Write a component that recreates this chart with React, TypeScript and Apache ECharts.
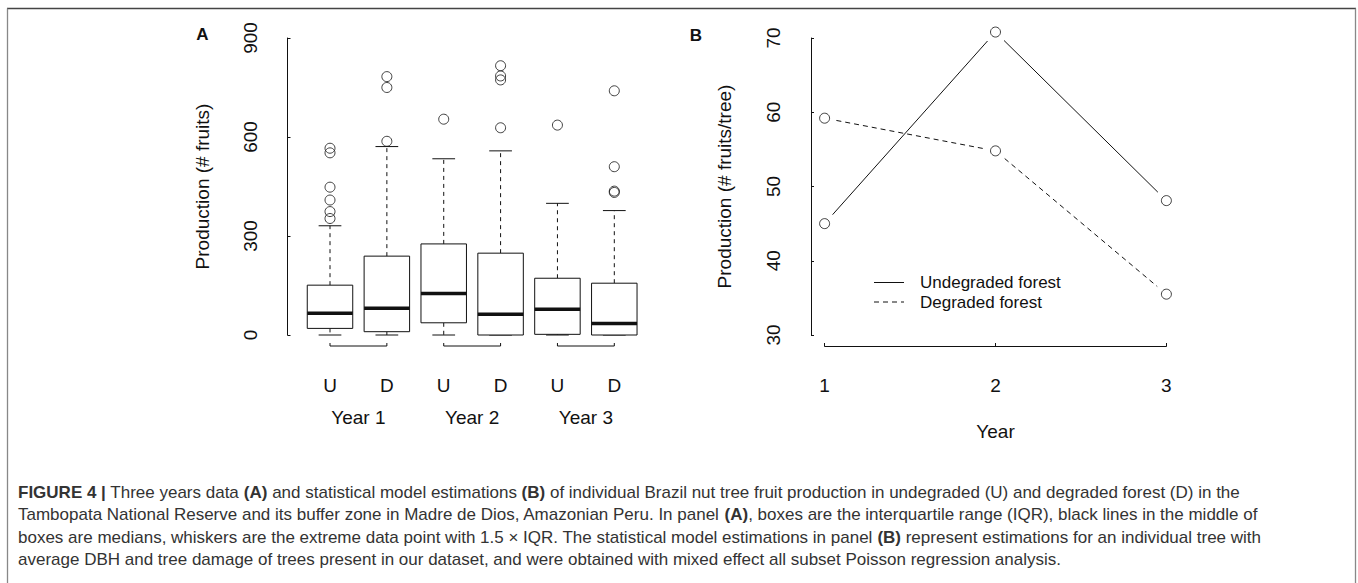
import React, { useEffect, useRef } from "react";
import * as echarts from "echarts";

// ---------- Panel A data (box plots) ----------
const boxPositions = [1, 2, 3, 4, 5, 6];
const boxLabels = ["U", "D", "U", "D", "U", "D"];
const yearLabels = ["Year 1", "Year 2", "Year 3"];
const yearPositions = [1.5, 3.5, 5.5];
const whiskerLow = [0, 0, 0, 0, 0, 0];
const quartile1 = [20, 10, 37, 0, 2, 0];
const medians = [66, 81, 126, 63, 78, 35];
const quartile3 = [151, 239, 276, 248, 172, 157];
const whiskerHigh = [331, 571, 534, 558, 399, 377];
const outliers = [
  [353, 374, 409, 448, 552, 566],
  [587, 750, 783],
  [654],
  [628, 773, 785, 816],
  [636],
  [432, 436, 510, 740],
];
const bracketPairs = [
  [1, 2],
  [3, 4],
  [5, 6],
];
const yTicksA = { min: 0, max: 900, interval: 300 };

// ---------- Panel B data (model estimations) ----------
const yearsB = [1, 2, 3];
const undegraded = [45.0, 70.8, 48.1];
const degraded = [59.2, 54.8, 35.5];
const yTicksB = { min: 30, max: 70, interval: 10 };

// ---------- Caption ----------
const captionLines = [
  "{b|FIGURE 4 |} Three years data {b|(A)} and statistical model estimations {b|(B)} of individual Brazil nut tree fruit production in undegraded (U) and degraded forest (D) in the",
  "Tambopata National Reserve and its buffer zone in Madre de Dios, Amazonian Peru. In panel {b|(A)}, boxes are the interquartile range (IQR), black lines in the middle of",
  "boxes are medians, whiskers are the extreme data point with 1.5 × IQR. The statistical model estimations in panel {b|(B)} represent estimations for an individual tree with",
  "average DBH and tree damage of trees present in our dataset, and were obtained with mixed effect all subset Poisson regression analysis.",
];

const FONT = "'Liberation Sans', Arial, Helvetica, sans-serif";
const INK = "#111";
const CAP_COLOR = "#333";
const CAP_SIZE = 17;

export default function App() {
  const ref = useRef<HTMLDivElement>(null);

  useEffect(() => {
    if (!ref.current) return;
    const chart = echarts.init(ref.current, undefined, { renderer: "svg" });

    const boxData = boxPositions.map((x, i) => [
      x,
      whiskerLow[i],
      quartile1[i],
      medians[i],
      quartile3[i],
      whiskerHigh[i],
    ]);
    const outlierData: number[][] = [];
    outliers.forEach((arr, i) => arr.forEach((v) => outlierData.push([boxPositions[i], v])));

    const segs = (vals: number[]) =>
      vals.slice(0, -1).map((v, i) => [yearsB[i], v, yearsB[i + 1], vals[i + 1]]);

    const lineStyle = (dash: boolean) => ({
      stroke: INK,
      lineWidth: 1,
      lineDash: dash ? [5, 4] : null,
    });

    const segmentRender = (dash: boolean) => (params: any, api: any) => {
      const p1 = api.coord([api.value(0), api.value(1)]);
      const p2 = api.coord([api.value(2), api.value(3)]);
      const dx = p2[0] - p1[0];
      const dy = p2[1] - p1[1];
      const len = Math.sqrt(dx * dx + dy * dy);
      const gap = 12;
      const ux = dx / len;
      const uy = dy / len;
      return {
        type: "line",
        shape: {
          x1: p1[0] + ux * gap,
          y1: p1[1] + uy * gap,
          x2: p2[0] - ux * gap,
          y2: p2[1] - uy * gap,
        },
        style: lineStyle(dash),
      };
    };

    const axisLabelBase = { fontFamily: FONT, fontSize: 19, color: INK };

    const option: any = {
      animation: false,
      backgroundColor: "#fff",
      grid: [
        { left: 330, top: 38, width: 284.3, height: 297, outerBoundsMode: "none" },
        { left: 824.6, top: 38, width: 341.8, height: 297, outerBoundsMode: "none" },
      ],
      xAxis: [
        {
          gridIndex: 0,
          type: "value",
          min: 1,
          max: 6,
          interval: 1,
          axisLine: { show: false },
          axisTick: { show: false },
          splitLine: { show: false },
          axisLabel: {
            ...axisLabelBase,
            margin: 41,
            formatter: (v: number) => boxLabels[boxPositions.indexOf(Math.round(v))] || "",
          },
        },
        {
          gridIndex: 0,
          type: "value",
          position: "bottom",
          min: 1,
          max: 6,
          interval: 0.5,
          axisLine: { show: false },
          axisTick: { show: false },
          splitLine: { show: false },
          axisLabel: {
            ...axisLabelBase,
            margin: 73,
            formatter: (v: number) => {
              const k = yearPositions.indexOf(v);
              return k >= 0 ? yearLabels[k] : "";
            },
          },
        },
        {
          gridIndex: 1,
          type: "value",
          min: 1,
          max: 3,
          interval: 1,
          offset: 11,
          axisLine: { show: true, lineStyle: { color: INK, width: 1 } },
          axisTick: { show: true, inside: true, length: 3, lineStyle: { color: INK } },
          splitLine: { show: false },
          axisLabel: { ...axisLabelBase, margin: 30 },
        },
      ],
      yAxis: [
        {
          gridIndex: 0,
          type: "value",
          ...yTicksA,
          offset: 42.5,
          axisLine: { show: true, lineStyle: { color: INK, width: 1 } },
          axisTick: { show: true, inside: true, length: 3, lineStyle: { color: INK } },
          splitLine: { show: false },
          axisLabel: { ...axisLabelBase, rotate: 90, margin: 28 },
        },
        {
          gridIndex: 1,
          type: "value",
          ...yTicksB,
          offset: 13.6,
          axisLine: { show: true, lineStyle: { color: INK, width: 1 } },
          axisTick: { show: true, inside: true, length: 3, lineStyle: { color: INK } },
          splitLine: { show: false },
          axisLabel: { ...axisLabelBase, rotate: 90, margin: 28 },
        },
      ],
      series: [
        {
          type: "custom",
          name: "boxes",
          xAxisIndex: 0,
          yAxisIndex: 0,
          clip: false,
          data: boxData,
          renderItem: (params: any, api: any) => {
            const x = api.value(0);
            const cx = api.coord([x, 0])[0];
            const yLo = api.coord([x, api.value(1)])[1];
            const yQ1 = api.coord([x, api.value(2)])[1];
            const yMed = api.coord([x, api.value(3)])[1];
            const yQ3 = api.coord([x, api.value(4)])[1];
            const yHi = api.coord([x, api.value(5)])[1];
            const hw = api.size([0.8, 0])[0] / 2;
            const cw = api.size([0.4, 0])[0] / 2;
            const solid = { stroke: INK, lineWidth: 1 };
            const dashed = { stroke: INK, lineWidth: 1, lineDash: [4, 4] };
            return {
              type: "group",
              children: [
                { type: "line", shape: { x1: cx, y1: yQ3, x2: cx, y2: yHi }, style: dashed },
                { type: "line", shape: { x1: cx, y1: yQ1, x2: cx, y2: yLo }, style: dashed },
                { type: "line", shape: { x1: cx - cw, y1: yHi, x2: cx + cw, y2: yHi }, style: solid },
                { type: "line", shape: { x1: cx - cw, y1: yLo, x2: cx + cw, y2: yLo }, style: solid },
                {
                  type: "rect",
                  shape: { x: cx - hw, y: yQ3, width: 2 * hw, height: yQ1 - yQ3 },
                  style: { fill: "#fff", stroke: INK, lineWidth: 1 },
                },
                {
                  type: "line",
                  shape: { x1: cx - hw, y1: yMed, x2: cx + hw, y2: yMed },
                  style: { stroke: INK, lineWidth: 3.5 },
                },
              ],
            };
          },
        },
        {
          type: "scatter",
          name: "outliers",
          xAxisIndex: 0,
          yAxisIndex: 0,
          clip: false,
          data: outlierData,
          symbol: "circle",
          symbolSize: 10,
          itemStyle: { color: "transparent", borderColor: INK, borderWidth: 1 },
        },
        {
          type: "custom",
          name: "brackets",
          xAxisIndex: 0,
          yAxisIndex: 0,
          clip: false,
          data: bracketPairs,
          renderItem: (params: any, api: any) => {
            const x1 = api.coord([api.value(0), 0])[0];
            const x2 = api.coord([api.value(1), 0])[0];
            const y = api.coord([api.value(0), 0])[1] + 11;
            return {
              type: "polyline",
              shape: { points: [[x1, y - 3], [x1, y], [x2, y], [x2, y - 3]] },
              style: { stroke: INK, lineWidth: 1, fill: null },
            };
          },
        },
        {
          type: "custom",
          name: "Undegraded forest",
          xAxisIndex: 2,
          yAxisIndex: 1,
          clip: false,
          data: segs(undegraded),
          renderItem: segmentRender(false),
        },
        {
          type: "custom",
          name: "Degraded forest",
          xAxisIndex: 2,
          yAxisIndex: 1,
          clip: false,
          data: segs(degraded),
          renderItem: segmentRender(true),
        },
        {
          type: "scatter",
          xAxisIndex: 2,
          yAxisIndex: 1,
          clip: false,
          data: yearsB.map((x, i) => [x, undegraded[i]]),
          symbol: "circle",
          symbolSize: 10,
          itemStyle: { color: "#fff", borderColor: INK, borderWidth: 1 },
        },
        {
          type: "scatter",
          xAxisIndex: 2,
          yAxisIndex: 1,
          clip: false,
          data: yearsB.map((x, i) => [x, degraded[i]]),
          symbol: "circle",
          symbolSize: 10,
          itemStyle: { color: "#fff", borderColor: INK, borderWidth: 1 },
        },
      ],
      graphic: [
        // frame
        { type: "line", shape: { x1: 7, y1: 8.5, x2: 1356, y2: 8.5 }, style: { stroke: "#444", lineWidth: 1.3 } },
        { type: "line", shape: { x1: 7.5, y1: 8.5, x2: 7.5, y2: 583 }, style: { stroke: "#888", lineWidth: 1.3 } },
        { type: "line", shape: { x1: 1355.5, y1: 8.5, x2: 1355.5, y2: 583 }, style: { stroke: "#888", lineWidth: 1.3 } },
        // panel letters
        {
          type: "text", x: 202.5, y: 34.5,
          style: { text: "A", fontFamily: FONT, fontSize: 17, fontWeight: "bold", fill: INK, align: "center", verticalAlign: "middle" },
        },
        {
          type: "text", x: 696, y: 35,
          style: { text: "B", fontFamily: FONT, fontSize: 17, fontWeight: "bold", fill: INK, align: "center", verticalAlign: "middle" },
        },
        // y-axis titles
        {
          type: "text", x: 202, y: 186.5, rotation: Math.PI / 2,
          style: { text: "Production (# fruits)", fontFamily: FONT, fontSize: 19, fill: INK, align: "center", verticalAlign: "middle" },
        },
        {
          type: "text", x: 724.6, y: 186.5, rotation: Math.PI / 2,
          style: { text: "Production (# fruits/tree)", fontFamily: FONT, fontSize: 19, fill: INK, align: "center", verticalAlign: "middle" },
        },
        // x title B
        {
          type: "text", x: 995.5, y: 431,
          style: { text: "Year", fontFamily: FONT, fontSize: 19, fill: INK, align: "center", verticalAlign: "middle" },
        },
        // legend B
        { type: "line", shape: { x1: 874, y1: 282.5, x2: 904, y2: 282.5 }, style: { stroke: INK, lineWidth: 1 } },
        { type: "line", shape: { x1: 874, y1: 302, x2: 904, y2: 302 }, style: { stroke: INK, lineWidth: 1, lineDash: [5, 4] } },
        {
          type: "text", x: 920, y: 282.5,
          style: { text: "Undegraded forest", fontFamily: FONT, fontSize: 17, fill: INK, align: "left", verticalAlign: "middle" },
        },
        {
          type: "text", x: 920, y: 302,
          style: { text: "Degraded forest", fontFamily: FONT, fontSize: 17, fill: INK, align: "left", verticalAlign: "middle" },
        },
        // caption
        ...captionLines.map((t, i) => ({
          type: "text",
          x: 18,
          y: 492 + i * 22.5,
          style: {
            text: t,
            fontFamily: FONT,
            fontSize: CAP_SIZE,
            fill: CAP_COLOR,
            align: "left",
            verticalAlign: "middle",
            rich: {
              b: { fontFamily: FONT, fontSize: CAP_SIZE, fontWeight: "bold", fill: CAP_COLOR },
            },
          },
        })),
      ],
    };

    chart.setOption(option);
    return () => chart.dispose();
  }, []);

  return (
    <div
      ref={ref}
      style={{ position: "absolute", left: 0, top: 0, width: 1358, height: 583, background: "#fff" }}
    />
  );
}
